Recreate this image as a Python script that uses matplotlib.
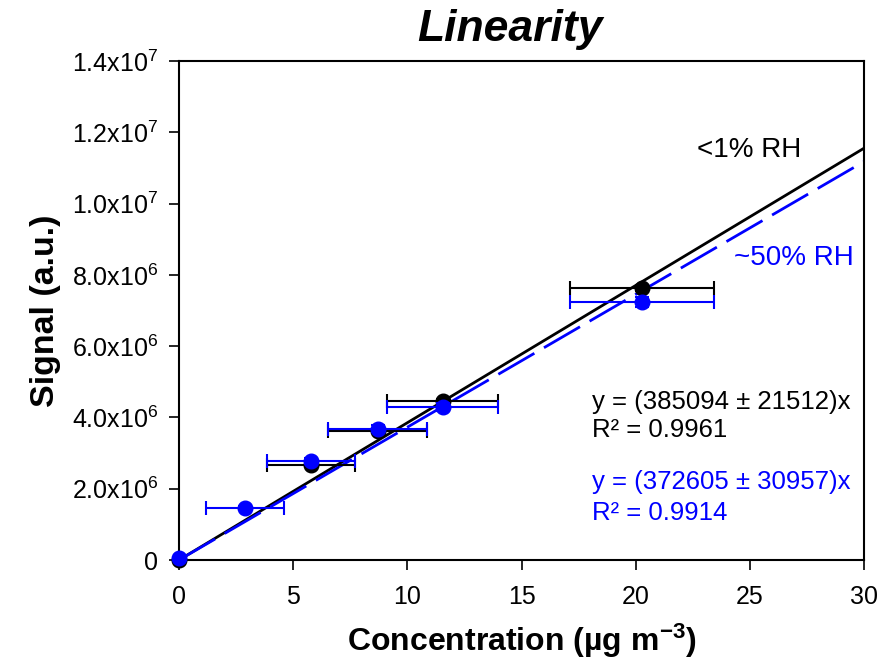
import matplotlib
matplotlib.use("Agg")
import matplotlib.pyplot as plt
import numpy as np
from matplotlib.ticker import FixedLocator, FixedFormatter

plt.rcParams['font.family'] = ['Liberation Sans', 'DejaVu Sans']
plt.rcParams['mathtext.fontset'] = 'custom'
plt.rcParams['mathtext.rm'] = 'Liberation Sans'
plt.rcParams['mathtext.it'] = 'Liberation Sans:italic'
plt.rcParams['mathtext.bf'] = 'Liberation Sans:bold'

# Data
conc_dry = [0, 5.78, 8.7, 11.56, 20.28]
signal_dry = [0.0, 2.67e6, 3.63e6, 4.46e6, 7.63e6]
xerr_dry = [0, 1.93, 2.17, 2.43, 3.14]
yerr_dry = [0, 0.05e6, 0.05e6, 0.05e6, 0.08e6]

conc_wet = [0, 2.89, 5.78, 8.7, 11.56, 20.28]
signal_wet = [0.05e6, 1.46e6, 2.78e6, 3.68e6, 4.29e6, 7.24e6]
xerr_wet = [0, 1.7, 1.93, 2.17, 2.43, 3.14]
yerr_wet = [0, 0.05e6, 0.08e6, 0.1e6, 0.12e6, 0.15e6]

slope_dry = 385094
slope_wet = 372605
fit_x = [0, 30]

yticks = [0, 2e6, 4e6, 6e6, 8e6, 1.0e7, 1.2e7, 1.4e7]
ytick_labels = ["0", r"2.0x10$^{6}$", r"4.0x10$^{6}$", r"6.0x10$^{6}$", r"8.0x10$^{6}$",
                r"1.0x10$^{7}$", r"1.2x10$^{7}$", r"1.4x10$^{7}$"]
xticks = [0, 5, 10, 15, 20, 25, 30]

fig = plt.figure(figsize=(8.82, 6.69), dpi=100)
ax = fig.add_axes([179/882, 1-560/669, (864-179)/882, (560-61)/669])

black = '#000000'
blue = '#0000ff'

fx = np.array(fit_x, dtype=float)
ax.plot(fx, slope_dry*fx, color=black, lw=2, zorder=2)
ln, = ax.plot(fx, slope_wet*fx, color=blue, lw=2, zorder=2)
ln.set_dashes([15, 4])

for cx, sy, xe, ye, col, z in [(conc_dry, signal_dry, xerr_dry, yerr_dry, black, 3),
                                (conc_wet, signal_wet, xerr_wet, yerr_wet, blue, 4)]:
    c = ax.errorbar(cx, sy, xerr=xe, yerr=ye, fmt='o', color=col,
                    ms=10.5, capsize=5, elinewidth=1.5, capthick=1.5, zorder=z)
    c[0].set_clip_on(False)

ax.set_xlim(0, 30)
ax.set_ylim(0, 1.4e7)
ax.xaxis.set_major_locator(FixedLocator(xticks))
ax.set_xticklabels([str(t) for t in xticks])
ax.yaxis.set_major_locator(FixedLocator(yticks))
ax.yaxis.set_major_formatter(FixedFormatter(ytick_labels))
ax.tick_params(direction='out', length=7, width=1.2, labelsize=18, pad=8)
ax.tick_params(axis='x', pad=11)
for s in ax.spines.values():
    s.set_linewidth(1.5)

ax.set_xlabel(r"Concentration (µg m$^{\mathbf{-3}}$)", fontsize=23, fontweight='bold', labelpad=9)
ax.set_ylabel("Signal (a.u.)", fontsize=24.5, fontweight='bold', labelpad=8)
fig.text(510/882, 1-30/669, "Linearity", fontsize=32, fontweight='bold', style='italic',
         ha='center', va='center')

ax.text(22.7, 1.15e7, "<1% RH", fontsize=20, color=black, va='center', ha='left')
ax.text(24.3, 8.47e6, "~50% RH", fontsize=20, color=blue, va='center', ha='left')
ax.text(18.1, 4.43e6, "y = (385094 ± 21512)x", fontsize=18.5, color=black, va='center', ha='left')
ax.text(18.1, 3.65e6, "R² = 0.9961", fontsize=18.5, color=black, va='center', ha='left')
ax.text(18.1, 2.19e6, "y = (372605 ± 30957)x", fontsize=18.5, color=blue, va='center', ha='left')
ax.text(18.1, 1.32e6, "R² = 0.9914", fontsize=18.5, color=blue, va='center', ha='left')

fig.savefig("out.png", dpi=100)
